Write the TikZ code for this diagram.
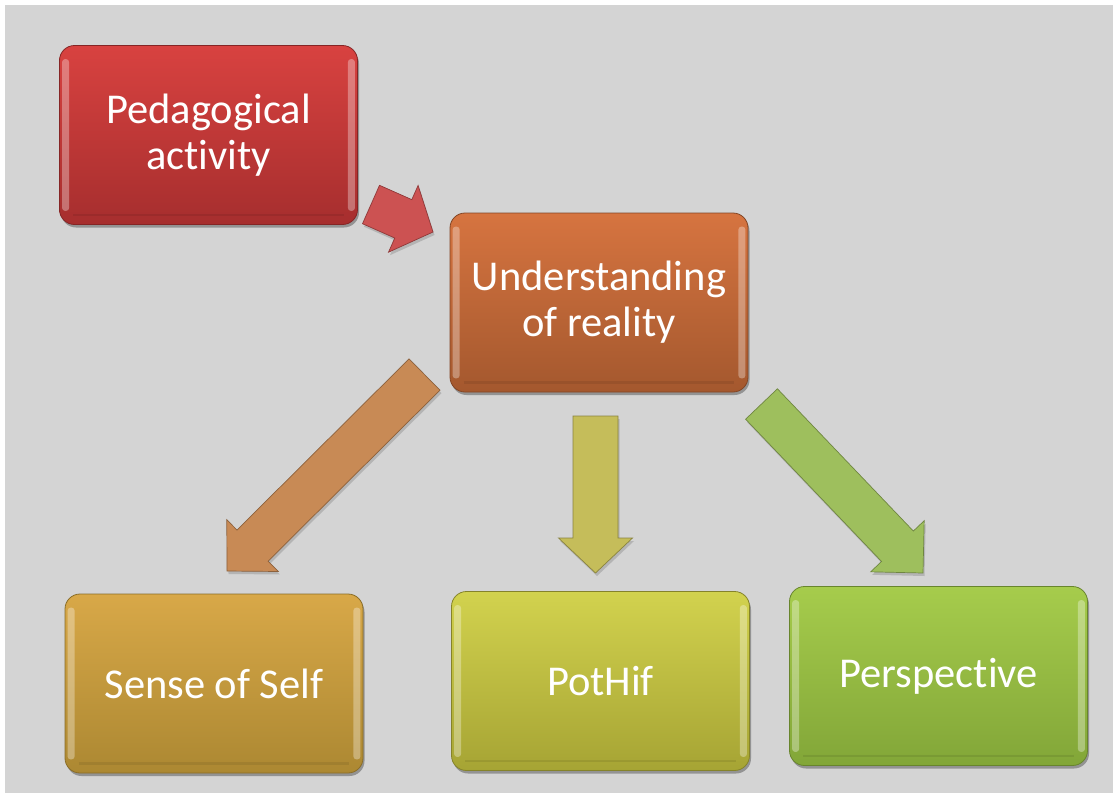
\documentclass[tikz,border=0pt]{standalone}
\usepackage{fontspec}
\setmainfont{Carlito}[Ligatures={NoCommon,NoRequired,NoContextual}, Contextuals=NoAlternate]
\usetikzlibrary{calc,shadows}
\definecolor{bgc}{RGB}{212,212,212}
\definecolor{redT}{RGB}{216,66,64}
\definecolor{redB}{RGB}{166,46,46}
\definecolor{orgT}{RGB}{214,116,64}
\definecolor{orgB}{RGB}{164,88,46}
\definecolor{sosT}{RGB}{216,168,72}
\definecolor{sosB}{RGB}{172,136,50}
\definecolor{potT}{RGB}{210,210,78}
\definecolor{potB}{RGB}{166,164,52}
\definecolor{perT}{RGB}{166,204,76}
\definecolor{perB}{RGB}{130,166,56}
\definecolor{arRed}{RGB}{204,82,82}
\definecolor{arOrg}{RGB}{200,138,85}
\definecolor{arYel}{RGB}{197,189,90}
\definecolor{arGrn}{RGB}{158,191,93}
\tikzset{
  box/.style={rounded corners=15pt, minimum width=298pt, minimum height=179pt,
    inner sep=0pt, align=center, text=white, line width=0.8pt,
    font=\fontsize{42.5}{46}\selectfont,
    drop shadow={shadow xshift=1.5pt, shadow yshift=-3pt, opacity=0.3, fill=black}},
  hilite/.style={white, opacity=0.32, rounded corners=3pt},
  lowrim/.style={black, opacity=0.08, line width=2.5pt},
  arrowshade/.style={black, opacity=0.15, transform canvas={shift={(1.5pt,-3pt)}}}
}
\newcommand\bevel[1]{%
  \fill[hilite] ([xshift=3pt,yshift=-14pt]#1.north west) rectangle ([xshift=10pt,yshift=14pt]#1.south west);
  \fill[hilite] ([xshift=-10pt,yshift=-14pt]#1.north east) rectangle ([xshift=-3pt,yshift=14pt]#1.south east);
  \draw[lowrim] ([xshift=14pt,yshift=10pt]#1.south west) -- ([xshift=-14pt,yshift=10pt]#1.south east);
}
\newcommand\blockarrow[6]{% tail, tip, half shaft, half head, head length, colour
  \coordinate (ba-h) at ($(#2)!#5!(#1)$);
  \fill[arrowshade]
    ($(#1)!#3!90:(#2)$) -- ($(ba-h)!#3!90:(#2)$) -- ($(ba-h)!#4!90:(#2)$) -- (#2)
    -- ($(ba-h)!#4!-90:(#2)$) -- ($(ba-h)!#3!-90:(#2)$) -- ($(#1)!#3!-90:(#2)$) -- cycle;
  \filldraw[fill=#6, draw=#6!70!black, line width=0.7pt, line join=miter]
    ($(#1)!#3!90:(#2)$) -- ($(ba-h)!#3!90:(#2)$) -- ($(ba-h)!#4!90:(#2)$) -- (#2)
    -- ($(ba-h)!#4!-90:(#2)$) -- ($(ba-h)!#3!-90:(#2)$) -- ($(#1)!#3!-90:(#2)$) -- cycle;
}
\begin{document}
\begin{tikzpicture}[x=1pt,y=-1pt]
\useasboundingbox (0,0) rectangle (1113,793);
\fill[white] (0,0) rectangle (1113,793);
\fill[bgc] (5,5) rectangle (1113,793);

% boxes
\node[box, top color=redT, bottom color=redB, draw=redB!80!black] (ped) at (208.5,135) {Pedagogical\\activity};
\node[box, top color=orgT, bottom color=orgB, draw=orgB!80!black] (und) at (599,302.5) {Understanding\\of reality};
\node[box, top color=sosT, bottom color=sosB, draw=sosB!80!black] (sos) at (214,683.5) {Sense of Self};
\node[box, top color=potT, bottom color=potB, draw=potB!80!black] (pot) at (600.5,681) {PotHif};
\node[box, top color=perT, bottom color=perB, draw=perB!80!black] (per) at (938.5,676) {Perspective};
\bevel{ped}\bevel{und}\bevel{sos}\bevel{pot}\bevel{per}

% arrow end points
\coordinate (r0) at (371,204.5);  \coordinate (r1) at (433,232);
\coordinate (o0) at (424.5,374.5);\coordinate (o1) at (227,571);
\coordinate (y0) at (595.5,416);  \coordinate (y1) at (595.5,573);
\coordinate (g0) at (761.5,404);  \coordinate (g1) at (923,573);

\blockarrow{r0}{r1}{21pt}{36.5pt}{32.5pt}{arRed}
\blockarrow{o0}{o1}{22pt}{36.5pt}{36pt}{arOrg}
\blockarrow{y0}{y1}{22.5pt}{37pt}{35pt}{arYel}
\blockarrow{g0}{g1}{22pt}{37pt}{37pt}{arGrn}
\end{tikzpicture}
\end{document}
